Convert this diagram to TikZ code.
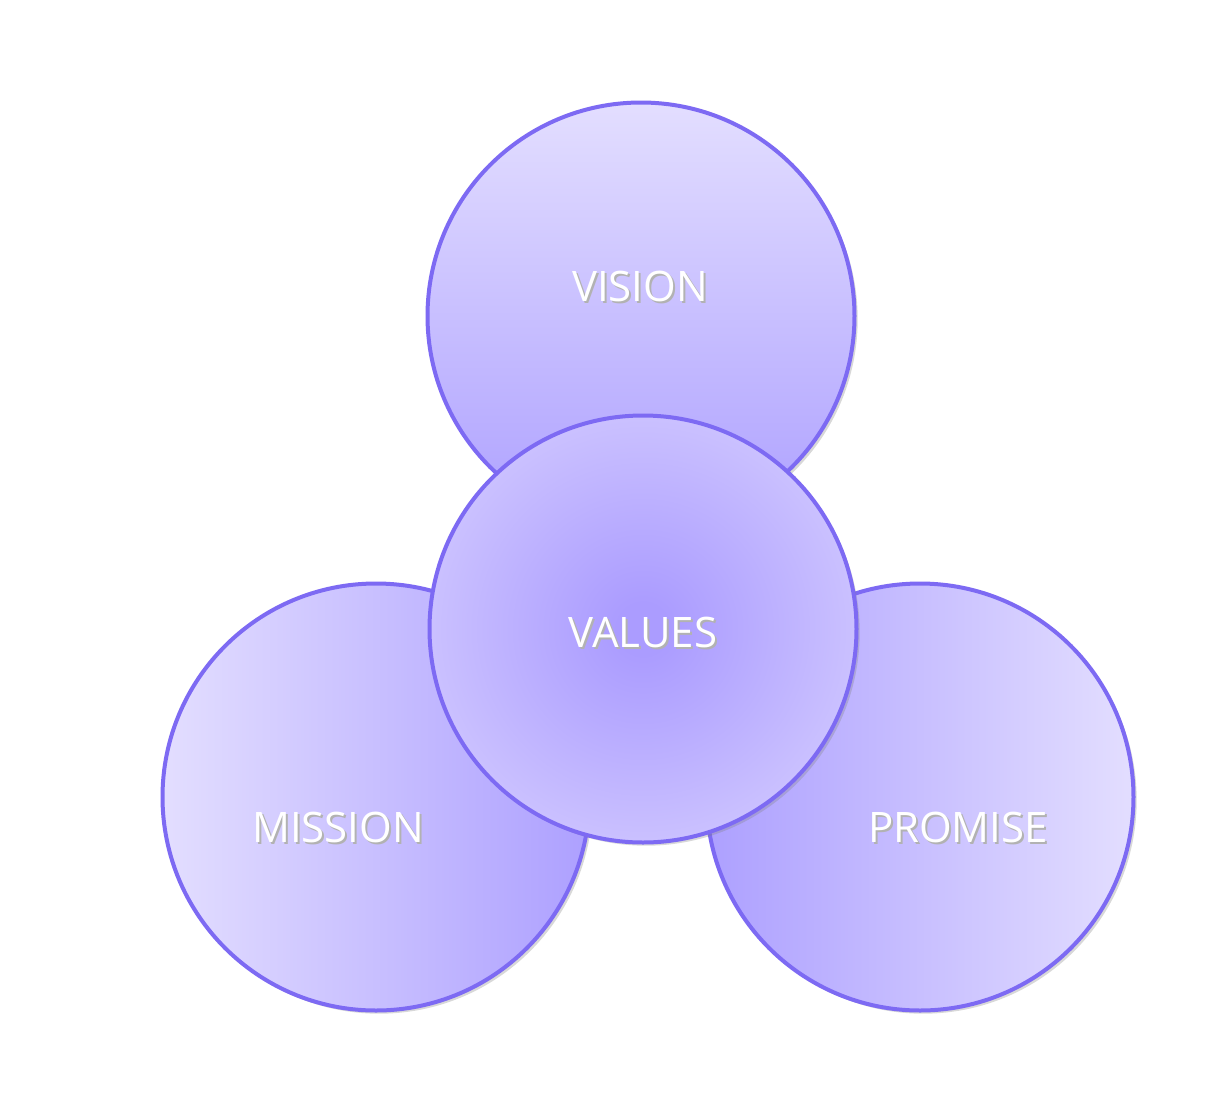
\documentclass[tikz,border=0pt]{standalone}
\usepackage{fontspec}
\setmainfont{Open Sans}
\usetikzlibrary{shadows,positioning}

\definecolor{rim}{HTML}{7D6AF3}
\definecolor{lighttone}{HTML}{E3DEFF}
\definecolor{darktone}{HTML}{ADA0FF}
\definecolor{coretone}{HTML}{AB9CFF}
\definecolor{edgetone}{HTML}{DAD3FF}
\pgfdeclareradialshading{valueshade}{\pgfpoint{0bp}{0bp}}{color(0bp)=(coretone); color(3bp)=(coretone); color(36bp)=(edgetone); color(50bp)=(edgetone)}

\newcommand{\glowtext}[1]{\makebox[0pt][l]{\hspace{1pt}\raisebox{-1pt}{\textcolor{black!30}{#1}}}\textcolor{white}{#1}}

\begin{document}
\begin{tikzpicture}[x=0.5pt,y=-0.5pt,
  ball/.style={circle,draw=rim,line width=2pt,minimum size=213.5pt,inner sep=0,
    drop shadow={shadow xshift=1.6pt,shadow yshift=-1.6pt,opacity=0.3}},
  caption/.style={inner sep=0,font=\fontsize{21}{25}\selectfont}]

\fill[white] (0,0) rectangle (1222,1120);
\useasboundingbox (0,0) rectangle (1222,1120);

\node[ball,top color=lighttone,bottom color=darktone] (vision) at (641,316) {};
\node[ball,left color=lighttone,right color=darktone] (mission) at (376,797) {};
\node[ball,left color=darktone,right color=lighttone] (promise) at (920,797) {};
\node[ball,shading=valueshade] (values) at (643,629) {};

\node[caption] (visiontxt) at (640,287) {\glowtext{VISION}};
\node[caption] (valuestxt) at (643,633) {\glowtext{VALUES}};
\node[caption] (missiontxt) at (338,828) {\glowtext{MISSION}};
\node[caption] (promisetxt) at (958,828) {\glowtext{PROMISE}};

\end{tikzpicture}
\end{document}
